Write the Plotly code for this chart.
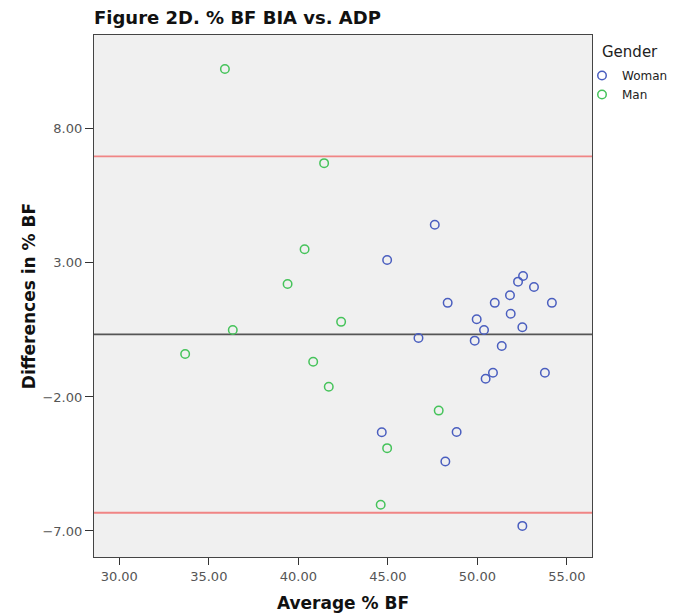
import plotly.graph_objects as go

# Woman
woman_avg = [44.96, 44.66, 48.84, 48.21, 52.51, 47.62, 52.55, 52.27, 53.16, 51.82,
             48.34, 50.97, 54.16, 51.86, 49.96, 52.51, 50.37, 46.71, 49.85, 51.36,
             50.87, 50.46, 53.77]
woman_diff = [3.11, -3.32, -3.31, -4.41, -6.81, 4.42, 2.51, 2.30, 2.10, 1.79,
              1.51, 1.51, 1.51, 1.10, 0.90, 0.60, 0.50, 0.20, 0.10, -0.10,
              -1.10, -1.32, -1.10]
# Man
man_avg = [35.90, 41.44, 40.35, 39.40, 42.39, 36.34, 33.68, 40.83, 41.70, 44.96, 44.60, 47.84]
man_diff = [10.23, 6.72, 3.51, 2.21, 0.80, 0.50, -0.40, -0.69, -1.62, -3.91, -6.02, -2.51]

mean_diff = 0.33
upper_loa = 6.97
lower_loa = -6.32

BLUE = "#4a5ebf"
GREEN = "#45c35a"
FONT = "DejaVu Sans"

# page body has an 8px margin, so the figure is sized to fit the window
W, H = 668, 607
M_L, M_R, M_T, M_B = 86, 84, 27, 58
PLOT_H = H - M_T - M_B

fig = go.Figure()
fig.add_trace(go.Scatter(x=woman_avg, y=woman_diff, mode="markers", name="Woman",
                         marker=dict(symbol="circle-open", size=8.5, color=BLUE,
                                     line=dict(width=1.5, color=BLUE))))
fig.add_trace(go.Scatter(x=man_avg, y=man_diff, mode="markers", name="Man",
                         marker=dict(symbol="circle-open", size=8.5, color=GREEN,
                                     line=dict(width=1.5, color=GREEN))))

for val, col in [(upper_loa, "#f08585"), (lower_loa, "#f08585"), (mean_diff, "#555555")]:
    fig.add_shape(type="line", xref="paper", x0=0, x1=1, yref="y", y0=val, y1=val,
                  line=dict(color=col, width=1.8), layer="below")

fig.add_annotation(text="Gender", xref="paper", yref="paper", x=1.0,
                   y=1 - 17/PLOT_H, xshift=8, xanchor="left", yanchor="middle", showarrow=False,
                   font=dict(family=FONT, size=15, color="#222222"))

fig.update_layout(
    width=W, height=H,
    margin=dict(l=M_L, r=M_R, t=M_T, b=M_B, autoexpand=False),
    paper_bgcolor="white", plot_bgcolor="#f0f0f0",
    font=dict(family=FONT, size=13, color="#555555"),
    title=dict(text="<b>Figure 2D. % BF BIA vs. ADP</b>", x=M_L/W, xref="container",
               xanchor="left", y=1 - 10/H, yanchor="middle",
               font=dict(family=FONT, size=18, color="#111111")),
    showlegend=True,
    legend=dict(xref="container", yref="container", x=574/W, xanchor="left",
                y=1 - 53/H, yanchor="top",
                font=dict(size=12, color="#222222"), bgcolor="rgba(0,0,0,0)",
                itemwidth=30, tracegroupgap=0),
    xaxis=dict(range=[28.59, 56.4], tick0=30, dtick=5, tickformat=".2f",
               showgrid=False, zeroline=False, showline=True, mirror=True,
               linecolor="#444444", linewidth=1.2, ticks="outside", ticklen=7,
               tickcolor="#333333", automargin=False, ticklabelstandoff=0,
               title=dict(text="<b>Average % BF</b>", font=dict(size=17, color="#111111"),
                          standoff=14)),
    yaxis=dict(range=[-7.97, 11.5], tick0=-7, dtick=5, tickformat=".2f",
               showgrid=False, zeroline=False, showline=True, mirror=True,
               linecolor="#444444", linewidth=1.2, ticks="outside", ticklen=8,
               tickcolor="#333333", automargin=False, ticklabelstandoff=0,
               title=dict(text="<b>Differences in % BF</b>", font=dict(size=17, color="#111111"),
                          standoff=2)),
)

fig.write_html("out.html")
